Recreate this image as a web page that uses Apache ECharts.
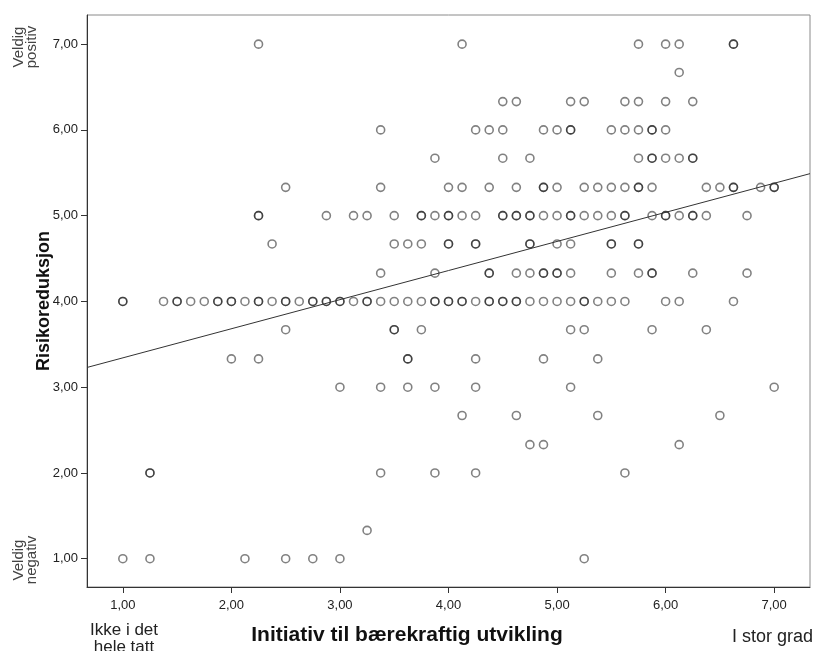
<!DOCTYPE html>
<html>
<head>
<meta charset="utf-8">
<script src="https://cdn.jsdelivr.net/npm/echarts@6/dist/echarts.min.js"></script>
<style>
  html, body { margin: 0; padding: 0; background: #fff; }
  #chart { width: 814px; height: 651px; }
</style>
</head>
<body>
<div id="chart"></div>
<script>
// Risikoreduksjon (y) vs Initiativ til bærekraftig utvikling (x).
// One array of x values per y level; an x listed twice = overlapping cases (darker ring).
const row700 = [2.25, 4.125, 5.75, 6.0, 6.125, 6.625, 6.625];
const row667 = [6.125];
const row633 = [4.5, 4.625, 5.125, 5.25, 5.625, 5.75, 6.0, 6.25];
const row600 = [3.375, 4.25, 4.375, 4.5, 4.875, 5.0, 5.125, 5.125, 5.5, 5.625, 5.75, 5.875, 5.875, 6.0];
const row567 = [3.875, 4.5, 4.75, 5.75, 5.875, 5.875, 6.0, 6.125, 6.25, 6.25];
const row533 = [2.5, 3.375, 4.0, 4.125, 4.375, 4.625, 4.875, 4.875, 5.0, 5.25, 5.375, 5.5, 5.625,
  5.75, 5.75, 5.875, 6.375, 6.5, 6.625, 6.625, 6.875, 7.0, 7.0];
const row500 = [2.25, 2.25, 2.875, 3.125, 3.25, 3.5, 3.75, 3.75, 3.875, 4.0, 4.0, 4.125, 4.25,
  4.5, 4.5, 4.625, 4.625, 4.75, 4.75, 4.875, 5.0, 5.125, 5.125, 5.25, 5.375, 5.5, 5.625, 5.625,
  5.875, 6.0, 6.0, 6.125, 6.25, 6.25, 6.375, 6.75];
const row467 = [2.375, 3.5, 3.625, 3.75, 4.0, 4.0, 4.25, 4.25, 4.75, 4.75, 5.0, 5.125, 5.5, 5.5, 5.75, 5.75];
const row433 = [3.375, 3.875, 4.375, 4.375, 4.625, 4.75, 4.875, 4.875, 5.0, 5.0, 5.125, 5.5,
  5.75, 5.875, 5.875, 6.25, 6.75];
const row400 = [1.0, 1.0, 1.375, 1.5, 1.5, 1.625, 1.75, 1.875, 1.875, 2.0, 2.0, 2.125, 2.25, 2.25,
  2.375, 2.5, 2.5, 2.625, 2.75, 2.75, 2.875, 2.875, 3.0, 3.0, 3.125, 3.25, 3.25, 3.375, 3.5, 3.625,
  3.75, 3.875, 3.875, 4.0, 4.0, 4.125, 4.125, 4.25, 4.375, 4.375, 4.5, 4.5, 4.625, 4.625, 4.75,
  4.875, 5.0, 5.125, 5.25, 5.25, 5.375, 5.5, 5.625, 6.0, 6.125, 6.625];
const row367 = [2.5, 3.5, 3.5, 3.75, 5.125, 5.25, 5.875, 6.375];
const row333 = [2.0, 2.25, 3.625, 3.625, 4.25, 4.875, 5.375];
const row300 = [3.0, 3.375, 3.625, 3.875, 4.25, 5.125, 7.0];
const row267 = [4.125, 4.625, 5.375, 6.5];
const row233 = [4.75, 4.875, 6.125];
const row200 = [1.25, 1.25, 3.375, 3.875, 4.25, 5.625];
const row133 = [3.25];
const row100 = [1.0, 1.25, 2.125, 2.5, 2.75, 3.0, 5.25];

const rowLevels = [7.0, 6.67, 6.33, 6.0, 5.67, 5.33, 5.0, 4.67, 4.33, 4.0, 3.67, 3.33, 3.0, 2.67, 2.33, 2.0, 1.33, 1.0];
const rows = [row700, row667, row633, row600, row567, row533, row500, row467, row433, row400,
  row367, row333, row300, row267, row233, row200, row133, row100];

// fitted line end points
const fitX = [0.67, 7.33];
const fitY = [3.23, 5.49];

const tickValues = [1, 2, 3, 4, 5, 6, 7];

const points = [];
rows.forEach((xs, i) => xs.forEach(x => points.push([x, rowLevels[i]])));

const font = "'Liberation Sans', Arial, sans-serif";
const fmt = v => v.toFixed(2).replace('.', ',');

const chart = echarts.init(document.getElementById('chart'));

chart.setOption({
  animation: false,
  textStyle: { fontFamily: font },
  grid: {
    left: 87, top: 15, right: 4, bottom: 64,
    show: true, borderColor: '#8a8a8a', borderWidth: 1, backgroundColor: '#fff'
  },
  xAxis: {
    type: 'value',
    min: 0.67,
    max: 7.33,
    splitLine: { show: false },
    axisLine: { show: true, onZero: false, lineStyle: { color: '#333', width: 1 } },
    axisTick: { show: true, length: 6, customValues: tickValues, lineStyle: { color: '#333' } },
    axisLabel: { customValues: tickValues, formatter: fmt, margin: 12, color: '#222', fontSize: 13 }
  },
  yAxis: {
    type: 'value',
    min: 0.67,
    max: 7.34,
    name: 'Risikoreduksjon',
    nameLocation: 'middle',
    nameGap: 34,
    nameMoveOverlap: false,
    nameRotate: 90,
    nameTextStyle: { fontSize: 18, fontWeight: 'bold', color: '#111' },
    splitLine: { show: false },
    axisLine: { show: true, onZero: false, lineStyle: { color: '#333', width: 1 } },
    axisTick: { show: true, length: 6, customValues: tickValues, lineStyle: { color: '#333' } },
    axisLabel: { customValues: tickValues, formatter: fmt, margin: 9, color: '#222', fontSize: 13 }
  },
  graphic: [
    {
      type: 'text', x: 25, y: 47, rotation: Math.PI / 2,
      style: { text: 'Veldig\npositiv', fill: '#444', font: '15px ' + font,
        align: 'center', verticalAlign: 'middle', lineHeight: 13 }
    },
    {
      type: 'text', x: 25, y: 560, rotation: Math.PI / 2,
      style: { text: 'Veldig\nnegativ', fill: '#444', font: '15px ' + font,
        align: 'center', verticalAlign: 'middle', lineHeight: 13 }
    },
    {
      type: 'text', x: 124, y: 622,
      style: { text: 'Ikke i det\nhele tatt', fill: '#222', font: '17px ' + font,
        align: 'center', verticalAlign: 'top', lineHeight: 17 }
    },
    {
      type: 'text', x: 813, y: 637,
      style: { text: 'I stor grad', fill: '#222', font: '18px ' + font,
        align: 'right', verticalAlign: 'middle' }
    },
    {
      type: 'text', x: 407, y: 635,
      style: { text: 'Initiativ til bærekraftig utvikling', fill: '#111',
        font: 'bold 21px ' + font, align: 'center', verticalAlign: 'middle' }
    }
  ],
  series: [
    {
      type: 'scatter',
      data: points,
      symbol: 'circle',
      symbolSize: 8,
      itemStyle: { color: 'rgba(0,0,0,0)', borderColor: 'rgba(0,0,0,0.62)', borderWidth: 1.6 },
      z: 2
    },
    {
      type: 'line',
      data: fitX.map((x, i) => [x, fitY[i]]),
      symbol: 'none',
      lineStyle: { color: '#333', width: 1 },
      silent: true,
      z: 3
    }
  ]
});
</script>
</body>
</html>
